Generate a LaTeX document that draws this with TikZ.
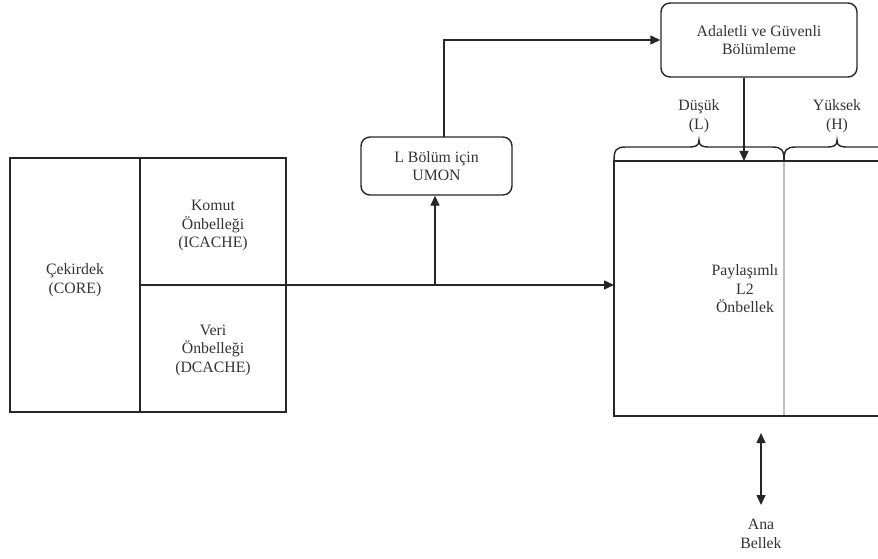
\documentclass[tikz,border=0pt]{standalone}
\usepackage{fontspec}
\setmainfont{Liberation Serif}
\usetikzlibrary{arrows.meta}
\begin{document}
\begin{tikzpicture}[x=1pt,y=-1pt,
  ln/.style={line width=1.4pt,draw=black!85},
  arr/.style={ln,-{Triangle[length=10pt,width=9pt]}},
  rbox/.style={ln,rounded corners=9pt},
  lbl/.style={align=center,font=\fontsize{15.8}{18.5}\selectfont,text=black!80,inner sep=0pt}]
\useasboundingbox (0,0) rectangle (878,559);
\clip (0,0) rectangle (878,559);
% left block
\draw[ln] (10,158) rectangle (286,412);
\draw[ln] (140,158) -- (140,412);
\coordinate (split) at (286,285);
\draw[ln] (140,285) -- (split);
\node[lbl] (core) at (75,280) {Çekirdek\\(CORE)};
\node[lbl] (ic) at (213,226) {Komut\\Önbelleği\\(ICACHE)};
\node[lbl] (dc) at (213,350) {Veri\\Önbelleği\\(DCACHE)};
% L2 box
\draw[ln] (614,161) rectangle (900,416);
\draw[line width=1.2pt,black!25] (784,162) -- (784,415);
\coordinate (l2left) at (614,285);
\node[lbl] (l2) at (745,289) {Paylaşımlı\\L2\\Önbellek};
% braces
\draw[ln] (614,161) .. controls (614,150) and (616,147) .. (626,147)
  -- (688,147) .. controls (696,147) and (699,146) .. (699,140)
  .. controls (699,146) and (702,147) .. (710,147)
  -- (772,147) .. controls (782,147) and (784,150) .. (784,161);
\draw[ln] (784,161) .. controls (784,150) and (786,147) .. (796,147)
  -- (826,147) .. controls (834,147) and (837,146) .. (837,140)
  .. controls (837,146) and (840,147) .. (848,147)
  -- (878,147) .. controls (888,147) and (890,150) .. (890,161);
\node[lbl] (low) at (699,116) {Düşük\\(L)};
\node[lbl] (high) at (837,116) {Yüksek\\(H)};
% UMON
\node[rbox,minimum width=151pt,minimum height=58pt,lbl,inner sep=0pt] (umon) at (436.5,166) {L Bölüm için\\UMON};
% Adaletli
\node[rbox,minimum width=196pt,minimum height=74pt,lbl] (fair) at (759,40) {Adaletli ve Güvenli\\Bölümleme};
% connectors
\draw[arr] (split) -- (l2left);
\coordinate (tap) at (435,285);
\draw[arr] (tap) -- (tap |- umon.south);
\draw[arr] (444,137) -- (444,40) -- (fair.west);
\coordinate (l2top) at (744,161);
\draw[arr] (fair.south -| l2top) -- (l2top);
% main memory
\node[lbl] (mem) at (761,534) {Ana\\Bellek};
\coordinate (mtop) at (761,433);
\coordinate (mbot) at (761,505);
\draw[ln,{Triangle[length=10pt,width=9pt]}-{Triangle[length=10pt,width=9pt]}] (mtop) -- (mbot);
\end{tikzpicture}
\end{document}
